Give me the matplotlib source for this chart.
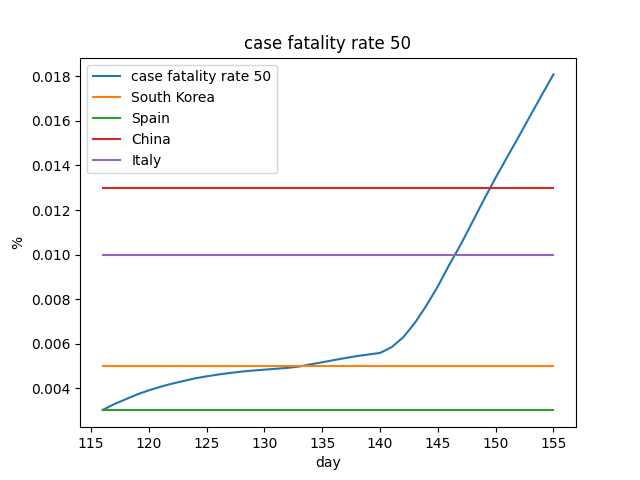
import matplotlib
matplotlib.use('Agg')
import matplotlib.pyplot as plt

# dni i przebieg dla case fatality rate 50
days = list(range(116, 156))
cfr_50 = [0.00302, 0.00328, 0.00350, 0.00372, 0.00390, 0.00406, 0.00420, 0.00432,
          0.00444, 0.00453, 0.00461, 0.00468, 0.00474, 0.00479, 0.00483, 0.00487,
          0.00491, 0.00497, 0.00507, 0.00516, 0.00526, 0.00535, 0.00544, 0.00551,
          0.00558, 0.00584, 0.00628, 0.00692, 0.00770, 0.00857, 0.00955, 0.01047,
          0.01147, 0.01248, 0.01345, 0.01438, 0.01530, 0.01624, 0.01717, 0.01809]

# stałe wartości dla krajów
countries = ['South Korea', 'Spain', 'China', 'Italy']
country_rates = [0.005, 0.003, 0.013, 0.010]

plt.figure(figsize=(6.4, 4.8), dpi=100)
plt.plot(days, cfr_50, label='case fatality rate 50')
for name, rate in zip(countries, country_rates):
    plt.plot(days, [rate] * len(days), label=name)
plt.xlabel('day')
plt.ylabel('%')
plt.title('case fatality rate 50')
plt.legend(loc='upper left')
plt.savefig('out.png')
